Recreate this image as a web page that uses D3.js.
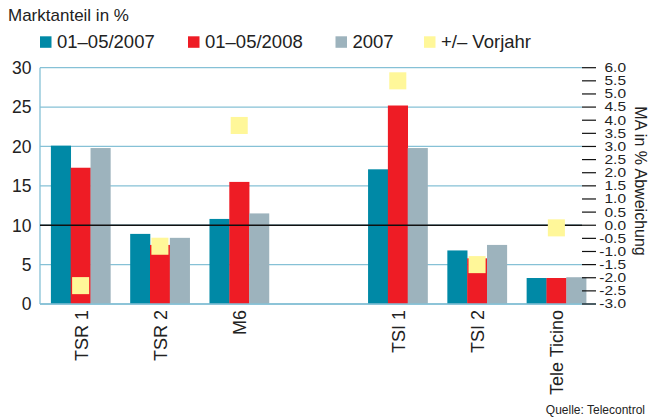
<!DOCTYPE html>
<html><head><meta charset="utf-8">
<script src="https://cdn.jsdelivr.net/npm/d3@7"></script>
<style>body{margin:0;background:#fff}svg{display:block}</style>
</head><body>
<script>
// ---- data ----
const categories = ["TSR 1","TSR 2","M6","TSI 1","TSI 2","Tele Ticino"];
const slots = ["TSR 1","TSR 2","M6","__gap__","TSI 1","TSI 2","Tele Ticino"];
const seriesNames = ["01–05/2007","01–05/2008","2007"];
const share0507 = [20.1, 8.9, 10.8, 17.1, 6.8, 3.3];
const share0508 = [17.3, 7.5, 15.5, 25.2, 5.8, 3.3];
const share2007 = [19.8, 8.4, 11.5, 19.8, 7.5, 3.4];
const changeName = "+/– Vorjahr";
const changeVsPrev = [-2.3, -0.8, 3.8, 5.5, -1.5, -0.1];
const leftTicks = [0,5,10,15,20,25,30];
const rightTicks = [-3,-2.5,-2,-1.5,-1,-0.5,0,0.5,1,1.5,2,2.5,3,3.5,4,4.5,5,5.5,6];

const colors = ["#0089a6","#ee1c25","#9db3bd"];
const yellow = "#fff799";
const grid = "#86c1d6";
const txt = "#222";

const W=648,H=417;
const svg = d3.select("body").append("svg").attr("width",W).attr("height",H)
  .style("font-family","'Liberation Sans', Arial, sans-serif");

const x = d3.scaleBand().domain(slots).range([39,598]).paddingInner(0.25).paddingOuter(0.15);
const xs = d3.scaleBand().domain(d3.range(3)).range([0,x.bandwidth()]);
const y = d3.scaleLinear().domain([0,30]).range([304,67.7]);
const y2 = d3.scaleLinear().domain([-3,6]).range([304,67.7]);
const gx0=40, gx1=582;

// title
svg.append("text").attr("x",8).attr("y",21).attr("font-size",17).attr("fill",txt).text("Marktanteil in %");

// legend
const legItems = seriesNames.map((n,i)=>({n,c:colors[i]})).concat([{n:changeName,c:yellow}]);
const legX = [40,188,335.5,424];
legItems.forEach((d,i)=>{
  svg.append("rect").attr("x",legX[i]).attr("y",36.3).attr("width",11.5).attr("height",11.5).attr("fill",d.c);
  svg.append("text").attr("x",legX[i]+17).attr("y",47.7).attr("font-size",18.5).attr("fill",txt).text(d.n);
});

// gridlines
svg.append("g").selectAll("line").data(leftTicks).join("line")
  .attr("x1",gx0).attr("x2",gx1).attr("y1",d=>y(d)).attr("y2",d=>y(d))
  .attr("stroke",grid).attr("stroke-width",1.3);
svg.append("line").attr("x1",gx0).attr("x2",gx0).attr("y1",y(30)).attr("y2",y(0)).attr("stroke",grid).attr("stroke-width",1.3);

// bars
const seriesVals=[share0507,share0508,share2007];
categories.forEach((c,ci)=>{
  seriesVals.forEach((vals,si)=>{
    svg.append("rect").attr("x",x(c)+xs(si)).attr("width",xs.bandwidth()+0.3)
      .attr("y",y(vals[ci])).attr("height",y(0)-y(vals[ci])).attr("fill",colors[si]);
  });
});

// bottom axis line
svg.append("line").attr("x1",gx0).attr("x2",596).attr("y1",y(0)).attr("y2",y(0)).attr("stroke",grid).attr("stroke-width",1.3);

// zero line of right axis (=10 on left)
svg.append("line").attr("x1",gx0).attr("x2",gx1).attr("y1",y2(0)).attr("y2",y2(0)).attr("stroke","#111").attr("stroke-width",1.3);

// yellow squares
const sq = xs.bandwidth()*0.86;
categories.forEach((c,ci)=>{
  const cx = x(c)+xs(1)+xs.bandwidth()/2;
  svg.append("rect").attr("x",cx-sq/2).attr("y",y2(changeVsPrev[ci])-sq/2).attr("width",sq).attr("height",sq).attr("fill",yellow);
});

// left axis labels
svg.append("g").selectAll("text").data(leftTicks).join("text")
  .attr("x",31.5).attr("y",d=>y(d)).attr("dy","0.36em").attr("text-anchor","end")
  .attr("font-size",17.5).attr("fill",txt).text(d=>d);

// right axis ticks + labels
const rg = svg.append("g");
rg.selectAll("line").data(rightTicks).join("line")
  .attr("x1",582).attr("x2",596).attr("y1",d=>y2(d)).attr("y2",d=>y2(d)).attr("stroke","#111").attr("stroke-width",1.2);
rg.selectAll("text").data(rightTicks).join("text")
  .attr("text-anchor","end").attr("font-size",15.5).attr("fill",txt)
  .attr("transform",d=>`translate(626,${y2(d)+4.4}) scale(1,0.78)`)
  .text(d=>d3.format(".1f")(d).replace("−","-"));

// right axis title
svg.append("text").attr("transform","translate(635,181) rotate(90)").attr("text-anchor","middle")
  .attr("font-size",16).attr("fill",txt).text("MA in % Abweichung");

// x labels
categories.forEach(c=>{
  const cx = x(c)+x.bandwidth()/2;
  svg.append("text").attr("transform",`translate(${cx+7},310) rotate(-90)`).attr("text-anchor","end")
    .attr("font-size",18).attr("fill",txt).text(c);
});

// source
svg.append("text").attr("x",645).attr("y",414).attr("text-anchor","end").attr("font-size",12).attr("fill",txt).text("Quelle: Telecontrol");
</script>
</body></html>
